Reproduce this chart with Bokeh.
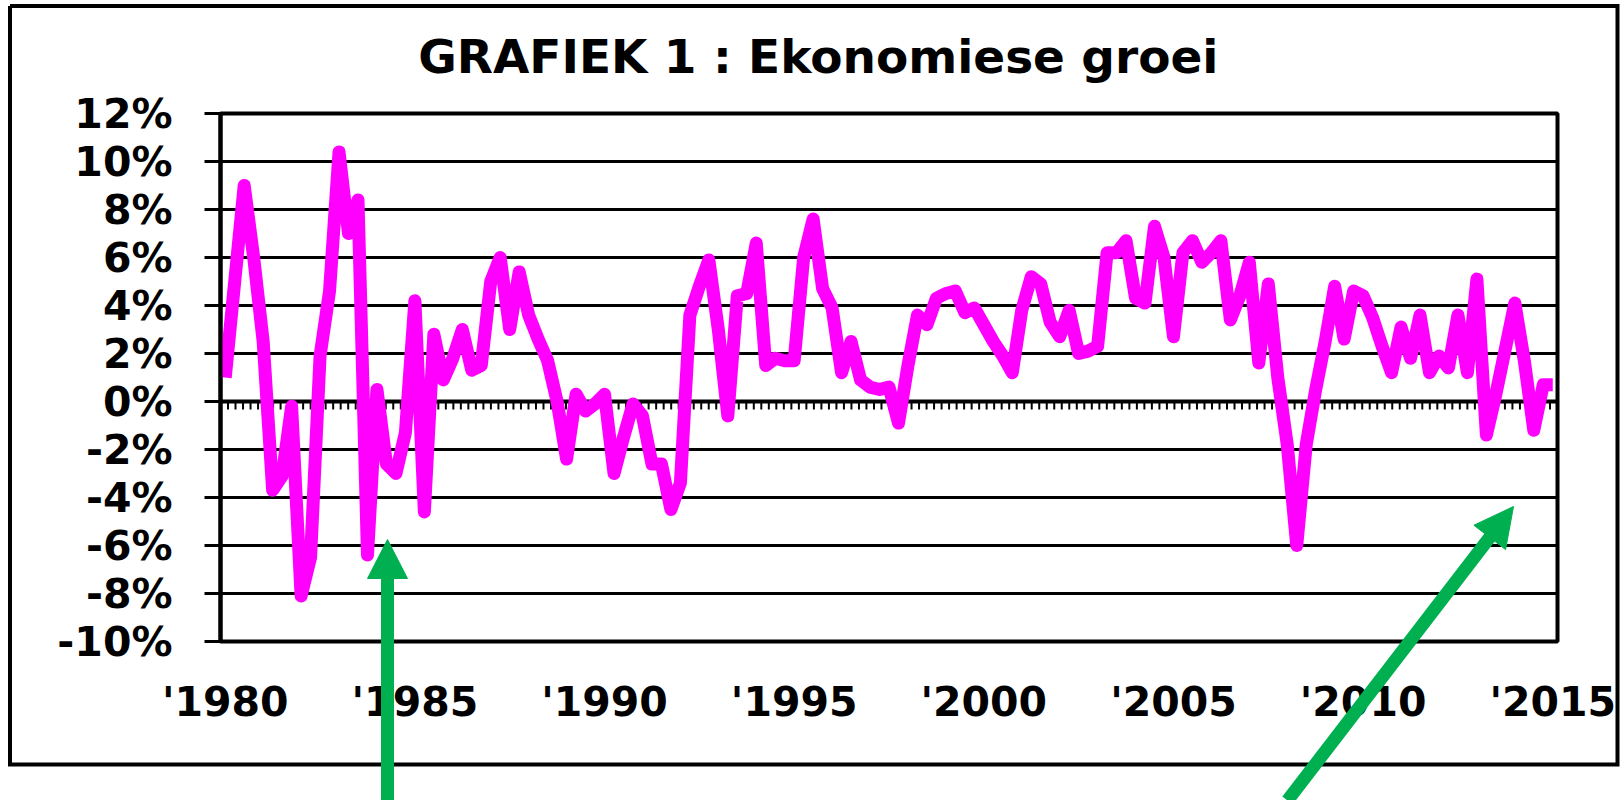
from bokeh.plotting import figure
from bokeh.models import Range1d, FixedTicker, PrintfTickFormatter, Span
from bokeh.core.properties import value
from bokeh.embed import file_html
from bokeh.resources import INLINE

# ---------------- data ----------------
TITLE = "GRAFIEK 1  : Ekonomiese groei"
START_YEAR = 1980
# quarterly economic growth (%), 1980Q1 .. 2015Q1
GROWTH = [
    1.0, 5.0, 9.0, 6.0, 2.5, -3.7, -3.1, -0.2,          # 1980-81
    -8.1, -6.5, 1.9, 4.6, 10.4, 7.0, 8.4, -6.4,        # 1982-83
    0.5, -2.6, -3.0, -1.3, 4.2, -4.6, 2.8, 0.9,        # 1984-85
    1.8, 3.0, 1.3, 1.5, 5.0, 6.0, 3.0, 5.4,            # 1986-87
    3.6, 2.6, 1.7, 0.0, -2.4, 0.3, -0.4, -0.1,         # 1988-89
    0.3, -3.0, -1.5, -0.1, -0.6, -2.6, -2.6, -4.5,     # 1990-91
    -3.4, 3.6, 4.8, 5.9, 3.0, -0.6, 4.4, 4.5,          # 1992-93
    6.6, 1.5, 1.8, 1.7, 1.7, 6.0, 7.6, 4.7,            # 1994-95
    3.9, 1.2, 2.5, 0.9, 0.6, 0.5, 0.6, -0.9,           # 1996-97
    1.5, 3.6, 3.2, 4.3, 4.5, 4.6, 3.7, 3.9,            # 1998-99
    3.2, 2.5, 1.9, 1.2, 3.8, 5.2, 4.9, 3.3,            # 2000-01
    2.7, 3.8, 2.0, 2.1, 2.3, 6.2, 6.2, 6.7,            # 2002-03
    4.3, 4.1, 7.3, 6.0, 2.7, 6.2, 6.7, 5.8,            # 2004-05
    6.2, 6.7, 3.4, 4.4, 5.8, 1.6, 4.9, 1.0,            # 2006-07
    -1.8, -6.0, -1.8, 0.5, 2.5, 4.8, 2.6, 4.6,         # 2008-09
    4.4, 3.5, 2.3, 1.2, 3.1, 1.8, 3.6, 1.2,            # 2010-11
    1.9, 1.4, 3.6, 1.2, 5.1, -1.4, 0.3, 2.2,           # 2012-13
    4.1, 1.7, -1.2, 0.7, 0.7,                          # 2014-15Q1
]
LABEL_YEARS = [1980, 1985, 1990, 1995, 2000, 2005, 2010, 2015]
Y_TICKS = [-10, -8, -6, -4, -2, 0, 2, 4, 6, 8, 10, 12]
ZERO_TICK_COUNT = 178

# ---------------- layout (page pixels) ----------------
W, H = 1620, 800
FL, FR, FT, FB = 220, 1557, 113, 641          # plot frame
TITLE_POS = (826, 56)
OUTER_BOX = (9.5, 1617, 5.5, 764)             # left, right, top, bottom
# arrows: tail, tip, head length, head width
ARROWS = [((387, 800), (387, 539), 39, 40),
          ((1287, 800), (1513, 506), 39, 40)]
GREEN = "#00B050"
MAGENTA = "#FF00FF"
FONT = "DejaVu Sans"

n = len(GROWTH)
X0, X1 = -0.5, n - 0.5
Y0, Y1 = Y_TICKS[0], Y_TICKS[-1]


def to_data(px, py):
    return (X0 + (px - FL) * (X1 - X0) / (FR - FL),
            Y1 - (py - FT) * (Y1 - Y0) / (FB - FT))


# ---------------- chart ----------------
xs = list(range(n))

p = figure(width=W, height=H, output_backend="svg", toolbar_location=None,
           x_range=Range1d(X0, X1), y_range=Range1d(Y0, Y1),
           min_border_left=FL, min_border_right=W - FR,
           min_border_top=FT, min_border_bottom=H - FB,
           background_fill_color="white", border_fill_color="white")
p.title.text = ""

# y axis
yax = p.yaxis[0]
yax.ticker = FixedTicker(ticks=Y_TICKS, minor_ticks=[])
yax.formatter = PrintfTickFormatter(format="%d%%")
yax.axis_line_color = "black"
yax.axis_line_width = 4
yax.major_tick_line_color = "black"
yax.major_tick_line_width = 3
yax.major_tick_out = 16
yax.major_tick_in = 0
yax.minor_tick_line_color = None
yax.major_label_standoff = 32
yax.major_label_text_font = FONT
yax.major_label_text_font_style = "bold"
yax.major_label_text_font_size = "41px"
yax.major_label_text_color = "black"

# x axis
xax = p.xaxis[0]
tick_idx = [(yr - START_YEAR) * 4 for yr in LABEL_YEARS]
xax.ticker = FixedTicker(ticks=tick_idx, minor_ticks=[])
xax.major_label_overrides = {t: f"'{yr}" for t, yr in zip(tick_idx, LABEL_YEARS)}
xax.axis_line_color = None
xax.major_tick_line_color = None
xax.minor_tick_line_color = None
xax.major_label_standoff = 30
xax.major_label_text_font = FONT
xax.major_label_text_font_style = "bold"
xax.major_label_text_font_size = "41px"
xax.major_label_text_color = "black"

# grid
p.xgrid.visible = False
p.ygrid.ticker = FixedTicker(ticks=Y_TICKS, minor_ticks=[])
p.ygrid.grid_line_color = "black"
p.ygrid.grid_line_width = 3
p.ygrid.grid_line_alpha = 1.0

p.outline_line_color = "black"
p.outline_line_width = 4
p.outline_line_alpha = 1.0

# zero line with small ticks hanging below it
p.add_layout(Span(location=0, dimension="width", line_color="black",
                  line_width=4, level="underlay"))
step = n / ZERO_TICK_COUNT
tx = [X0 + k * step for k in range(ZERO_TICK_COUNT + 1)]
tick_len = to_data(0, FT + 8)[1] - to_data(0, FT)[1]
p.segment(x0=tx, y0=[0] * len(tx), x1=tx, y1=[tick_len] * len(tx),
          line_color="black", line_width=2)

# growth line
p.line(xs, GROWTH, line_color=MAGENTA, line_width=13,
       line_join="round", line_cap="butt")

# ---- decorations outside the frame (overlay level, not clipped) ----
tx_, ty_ = to_data(*TITLE_POS)
p.text(x=[tx_], y=[ty_], text=[TITLE], text_align="center",
       text_baseline="middle", text_font=value(FONT),
       text_font_style="bold", text_font_size="47px",
       text_color="black", level="overlay")

bl, bt = to_data(OUTER_BOX[0], OUTER_BOX[2])
br, bb = to_data(OUTER_BOX[1], OUTER_BOX[3])
p.multi_line(xs=[[bl, br, br, bl, bl]], ys=[[bt, bt, bb, bb, bt]],
             line_color="black", line_width=4, line_join="miter",
             level="overlay")

for (tail, tip, hl, hw) in ARROWS:
    dx, dy = tip[0] - tail[0], tip[1] - tail[1]
    L = (dx * dx + dy * dy) ** 0.5
    ux, uy = dx / L, dy / L
    bx, by = tip[0] - ux * hl, tip[1] - uy * hl
    nx, ny = -uy, ux
    c1 = (bx + nx * hw / 2, by + ny * hw / 2)
    c2 = (bx - nx * hw / 2, by - ny * hw / 2)
    sx0, sy0 = to_data(*tail)
    sx1, sy1 = to_data(bx + ux * 2, by + uy * 2)
    p.segment(x0=[sx0], y0=[sy0], x1=[sx1], y1=[sy1], line_color=GREEN,
              line_width=13, level="overlay")
    pts = [to_data(*tip), to_data(*c1), to_data(*c2)]
    p.patch(x=[q[0] for q in pts], y=[q[1] for q in pts], fill_color=GREEN,
            line_color=GREEN, line_width=1, level="overlay")

open("out.html", "w").write(file_html(p, INLINE))
